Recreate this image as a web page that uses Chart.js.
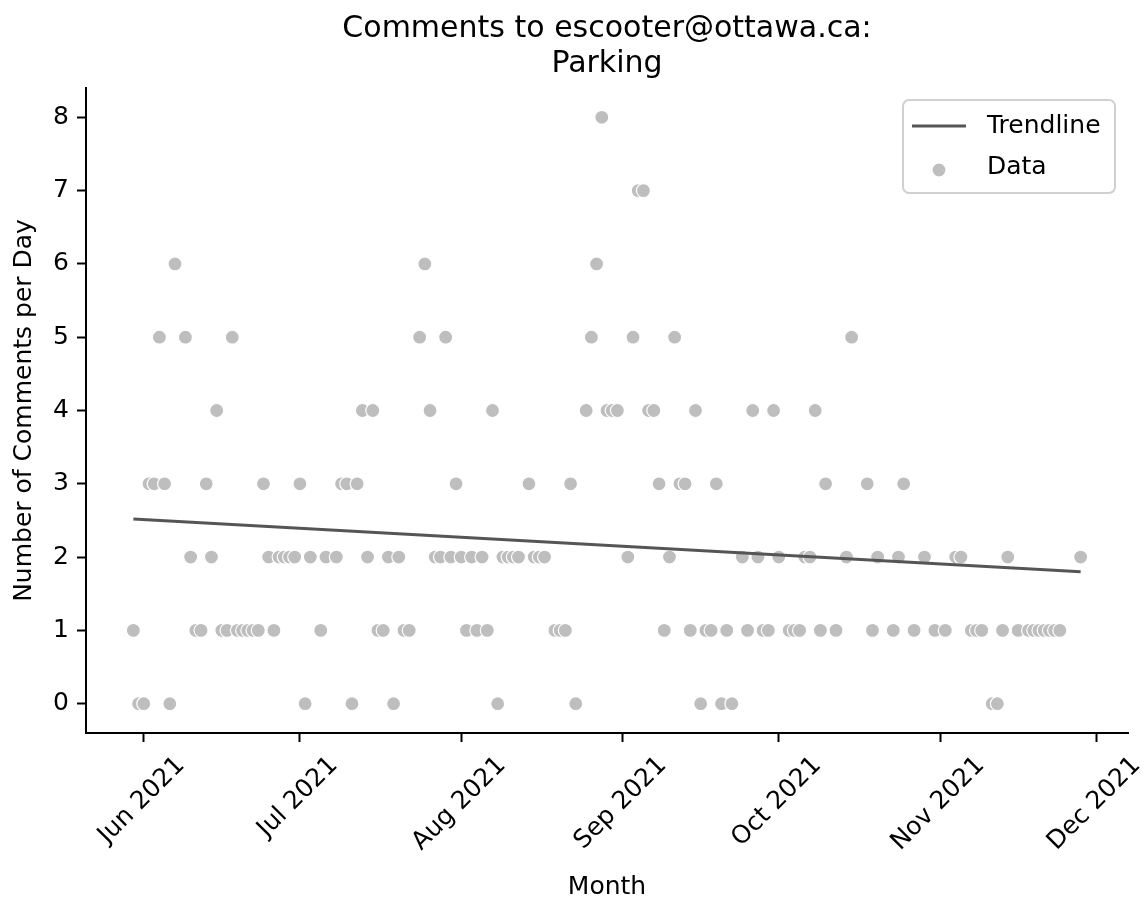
<!DOCTYPE html>
<html>
<head>
<meta charset="utf-8">
<title>Comments to escooter@ottawa.ca: Parking</title>
<script src="https://cdn.jsdelivr.net/npm/chart.js@4.4.1/dist/chart.umd.min.js"></script>
<style>
  html, body { margin: 0; padding: 0; background: #ffffff; }
  #wrap { width: 1145px; height: 903px; }
</style>
</head>
<body>
<div id="wrap"><canvas id="chart" width="1145" height="903"></canvas></div>
<script>
// Daily parking comments (dates with at least one record)
const dates = [
  '2021-05-30','2021-05-31','2021-06-01','2021-06-02','2021-06-03','2021-06-04','2021-06-05','2021-06-06',
  '2021-06-07','2021-06-09','2021-06-10','2021-06-11','2021-06-12','2021-06-13','2021-06-14','2021-06-15',
  '2021-06-16','2021-06-17','2021-06-18','2021-06-19','2021-06-20','2021-06-21','2021-06-22','2021-06-23',
  '2021-06-24','2021-06-25','2021-06-26','2021-06-27','2021-06-28','2021-06-29','2021-06-30','2021-07-01',
  '2021-07-02','2021-07-03','2021-07-05','2021-07-06','2021-07-08','2021-07-09','2021-07-10','2021-07-11',
  '2021-07-12','2021-07-13','2021-07-14','2021-07-15','2021-07-16','2021-07-17','2021-07-18','2021-07-19',
  '2021-07-20','2021-07-21','2021-07-22','2021-07-24','2021-07-25','2021-07-26','2021-07-27','2021-07-28',
  '2021-07-29','2021-07-30','2021-07-31','2021-08-01','2021-08-02','2021-08-03','2021-08-04','2021-08-05',
  '2021-08-06','2021-08-07','2021-08-08','2021-08-09','2021-08-10','2021-08-11','2021-08-12','2021-08-14',
  '2021-08-15','2021-08-16','2021-08-17','2021-08-19','2021-08-20','2021-08-21','2021-08-22','2021-08-23',
  '2021-08-25','2021-08-26','2021-08-27','2021-08-28','2021-08-29','2021-08-30','2021-08-31','2021-09-02',
  '2021-09-03','2021-09-04','2021-09-05','2021-09-06','2021-09-07','2021-09-08','2021-09-09','2021-09-10',
  '2021-09-11','2021-09-12','2021-09-13','2021-09-14','2021-09-15','2021-09-16','2021-09-17','2021-09-18',
  '2021-09-19','2021-09-20','2021-09-21','2021-09-22','2021-09-24','2021-09-25','2021-09-26','2021-09-27',
  '2021-09-28','2021-09-29','2021-09-30','2021-10-01','2021-10-03','2021-10-04','2021-10-05','2021-10-06',
  '2021-10-07','2021-10-08','2021-10-09','2021-10-10','2021-10-12','2021-10-14','2021-10-15','2021-10-18',
  '2021-10-19','2021-10-20','2021-10-23','2021-10-24','2021-10-25','2021-10-27','2021-10-29','2021-10-31',
  '2021-11-02','2021-11-04','2021-11-05','2021-11-07','2021-11-08','2021-11-09','2021-11-11','2021-11-12',
  '2021-11-13','2021-11-14','2021-11-16','2021-11-18','2021-11-19','2021-11-20','2021-11-21','2021-11-22',
  '2021-11-23','2021-11-24','2021-11-28'
];
const counts = [
  1,0,0,3,3,5,3,0,
  6,5,2,1,1,3,2,4,
  1,1,5,1,1,1,1,1,
  3,2,1,2,2,2,2,3,
  0,2,1,2,2,3,3,0,
  3,4,2,4,1,1,2,0,
  2,1,1,5,6,4,2,2,
  5,2,3,2,1,2,1,2,
  1,4,0,2,2,2,2,3,
  2,2,2,1,1,1,3,0,
  4,5,6,8,4,4,4,2,
  5,7,7,4,4,3,1,2,
  5,3,3,1,4,0,1,1,
  3,0,1,0,2,1,4,2,
  1,1,4,2,1,1,1,2,
  2,4,1,3,1,2,5,3,
  1,2,1,2,3,1,2,1,
  1,2,2,1,1,1,0,0,
  1,2,1,1,1,1,1,1,
  1,1,2
];

// Fitted trend, start and end of the period
const trendDates = ['2021-05-30', '2021-11-28'];
const trendValues = [2.52, 1.80];

// Axis ticks
const monthTicks = ['2021-06-01','2021-07-01','2021-08-01','2021-09-01','2021-10-01','2021-11-01','2021-12-01'];
const monthLabels = ['Jun 2021','Jul 2021','Aug 2021','Sep 2021','Oct 2021','Nov 2021','Dec 2021'];
const yTicks = [0, 1, 2, 3, 4, 5, 6, 7, 8];

const FONT = "'DejaVu Sans', 'Liberation Sans', sans-serif";
const DAY_MS = 86400000;
const ORIGIN = Date.UTC(2021, 5, 1);
function dayIndex(s) {
  const [y, m, d] = s.split('-').map(Number);
  return (Date.UTC(y, m - 1, d) - ORIGIN) / DAY_MS;
}

const xs = dates.map(dayIndex);
const xLo = Math.min(...xs), xHi = Math.max(...xs);
const xPad = (xHi - xLo) * 0.05;
const yLo = Math.min(...yTicks), yHi = Math.max(...yTicks);
const yPad = (yHi - yLo) * 0.05;

const POINT_COLOR = '#bebebe';
const LINE_COLOR = '#555555';

// Title, axis titles, rotated month labels and the legend
const decor = {
  id: 'decor',
  afterDraw(chart) {
    const ctx = chart.ctx;
    const area = chart.chartArea;
    const xScale = chart.scales.x;
    const cx = (area.left + area.right) / 2;
    ctx.save();
    ctx.fillStyle = '#000';

    // chart title
    ctx.font = '30px ' + FONT;
    ctx.textAlign = 'center';
    ctx.textBaseline = 'alphabetic';
    ctx.fillText('Comments to escooter@ottawa.ca:', cx, 37);
    ctx.fillText('Parking', cx, 72);

    // month labels, rotated 45 degrees and centred under each tick
    ctx.font = '25px ' + FONT;
    const lineH = 25 * 1.164;
    const top = area.bottom + 18;
    monthTicks.forEach((d, i) => {
      const px = xScale.getPixelForValue(dayIndex(d)) - 2;
      const w = ctx.measureText(monthLabels[i]).width;
      const h = (w + lineH) * Math.SQRT1_2;
      ctx.save();
      ctx.translate(px, top + h / 2);
      ctx.rotate(-Math.PI / 4);
      ctx.textAlign = 'center';
      ctx.textBaseline = 'middle';
      ctx.fillText(monthLabels[i], 0, 0);
      ctx.restore();
    });

    // axis titles
    ctx.textAlign = 'center';
    ctx.textBaseline = 'middle';
    ctx.fillText('Month', cx, 887);
    ctx.save();
    ctx.translate(24, (area.top + area.bottom) / 2);
    ctx.rotate(-Math.PI / 2);
    ctx.fillText('Number of Comments per Day', 0, 0);
    ctx.restore();

    // legend
    const lx = 903, ly = 100, lw = 212, lh = 93, r = 6;
    ctx.beginPath();
    ctx.moveTo(lx + r, ly);
    ctx.arcTo(lx + lw, ly, lx + lw, ly + lh, r);
    ctx.arcTo(lx + lw, ly + lh, lx, ly + lh, r);
    ctx.arcTo(lx, ly + lh, lx, ly, r);
    ctx.arcTo(lx, ly, lx + lw, ly, r);
    ctx.closePath();
    ctx.fillStyle = 'rgba(255,255,255,0.8)';
    ctx.fill();
    ctx.strokeStyle = '#d0d0d0';
    ctx.lineWidth = 2;
    ctx.stroke();

    ctx.beginPath();
    ctx.moveTo(912, 126);
    ctx.lineTo(966, 126);
    ctx.strokeStyle = LINE_COLOR;
    ctx.lineWidth = 3;
    ctx.stroke();

    ctx.beginPath();
    ctx.arc(939, 170, 7, 0, Math.PI * 2);
    ctx.fillStyle = POINT_COLOR;
    ctx.fill();
    ctx.strokeStyle = '#fff';
    ctx.lineWidth = 1.2;
    ctx.stroke();

    ctx.fillStyle = '#000';
    ctx.textAlign = 'left';
    ctx.textBaseline = 'middle';
    ctx.fillText('Trendline', 987, 126);
    ctx.fillText('Data', 987, 167);
    ctx.restore();
  }
};

const axisGrid = { drawOnChartArea: false, drawTicks: true, tickLength: 9, tickWidth: 2, tickColor: '#000' };
const axisBorder = { display: true, color: '#000', width: 2 };

new Chart(document.getElementById('chart'), {
  type: 'scatter',
  data: {
    datasets: [
      {
        type: 'line',
        label: 'Trendline',
        data: trendDates.map((d, i) => ({ x: dayIndex(d), y: trendValues[i] })),
        borderColor: LINE_COLOR,
        borderWidth: 3,
        pointRadius: 0,
        fill: false,
        tension: 0,
        order: 0
      },
      {
        type: 'scatter',
        label: 'Data',
        data: dates.map((d, i) => ({ x: dayIndex(d), y: counts[i] })),
        backgroundColor: POINT_COLOR,
        borderColor: '#ffffff',
        borderWidth: 1.2,
        pointRadius: 7,
        pointHoverRadius: 7,
        order: 1
      }
    ]
  },
  options: {
    responsive: false,
    animation: false,
    devicePixelRatio: 1,
    events: [],
    layout: { padding: { top: 88, right: 17, left: 0, bottom: 0 } },
    plugins: { legend: { display: false }, title: { display: false }, tooltip: { enabled: false } },
    scales: {
      x: {
        type: 'linear',
        min: xLo - xPad,
        max: xHi + xPad,
        grid: axisGrid,
        border: axisBorder,
        ticks: { display: false },
        afterBuildTicks: s => { s.ticks = monthTicks.map(d => ({ value: dayIndex(d) })); },
        afterFit: s => { s.height = 170; s.paddingLeft = 0; s.paddingRight = 0; }
      },
      y: {
        type: 'linear',
        min: yLo - yPad,
        max: yHi + yPad,
        grid: axisGrid,
        border: axisBorder,
        ticks: { color: '#000', font: { family: FONT, size: 25 }, padding: 8 },
        afterBuildTicks: s => { s.ticks = yTicks.map(v => ({ value: v })); },
        afterFit: s => { s.width = 86; s.paddingTop = 0; s.paddingBottom = 0; }
      }
    }
  },
  plugins: [decor]
});
</script>
</body>
</html>
